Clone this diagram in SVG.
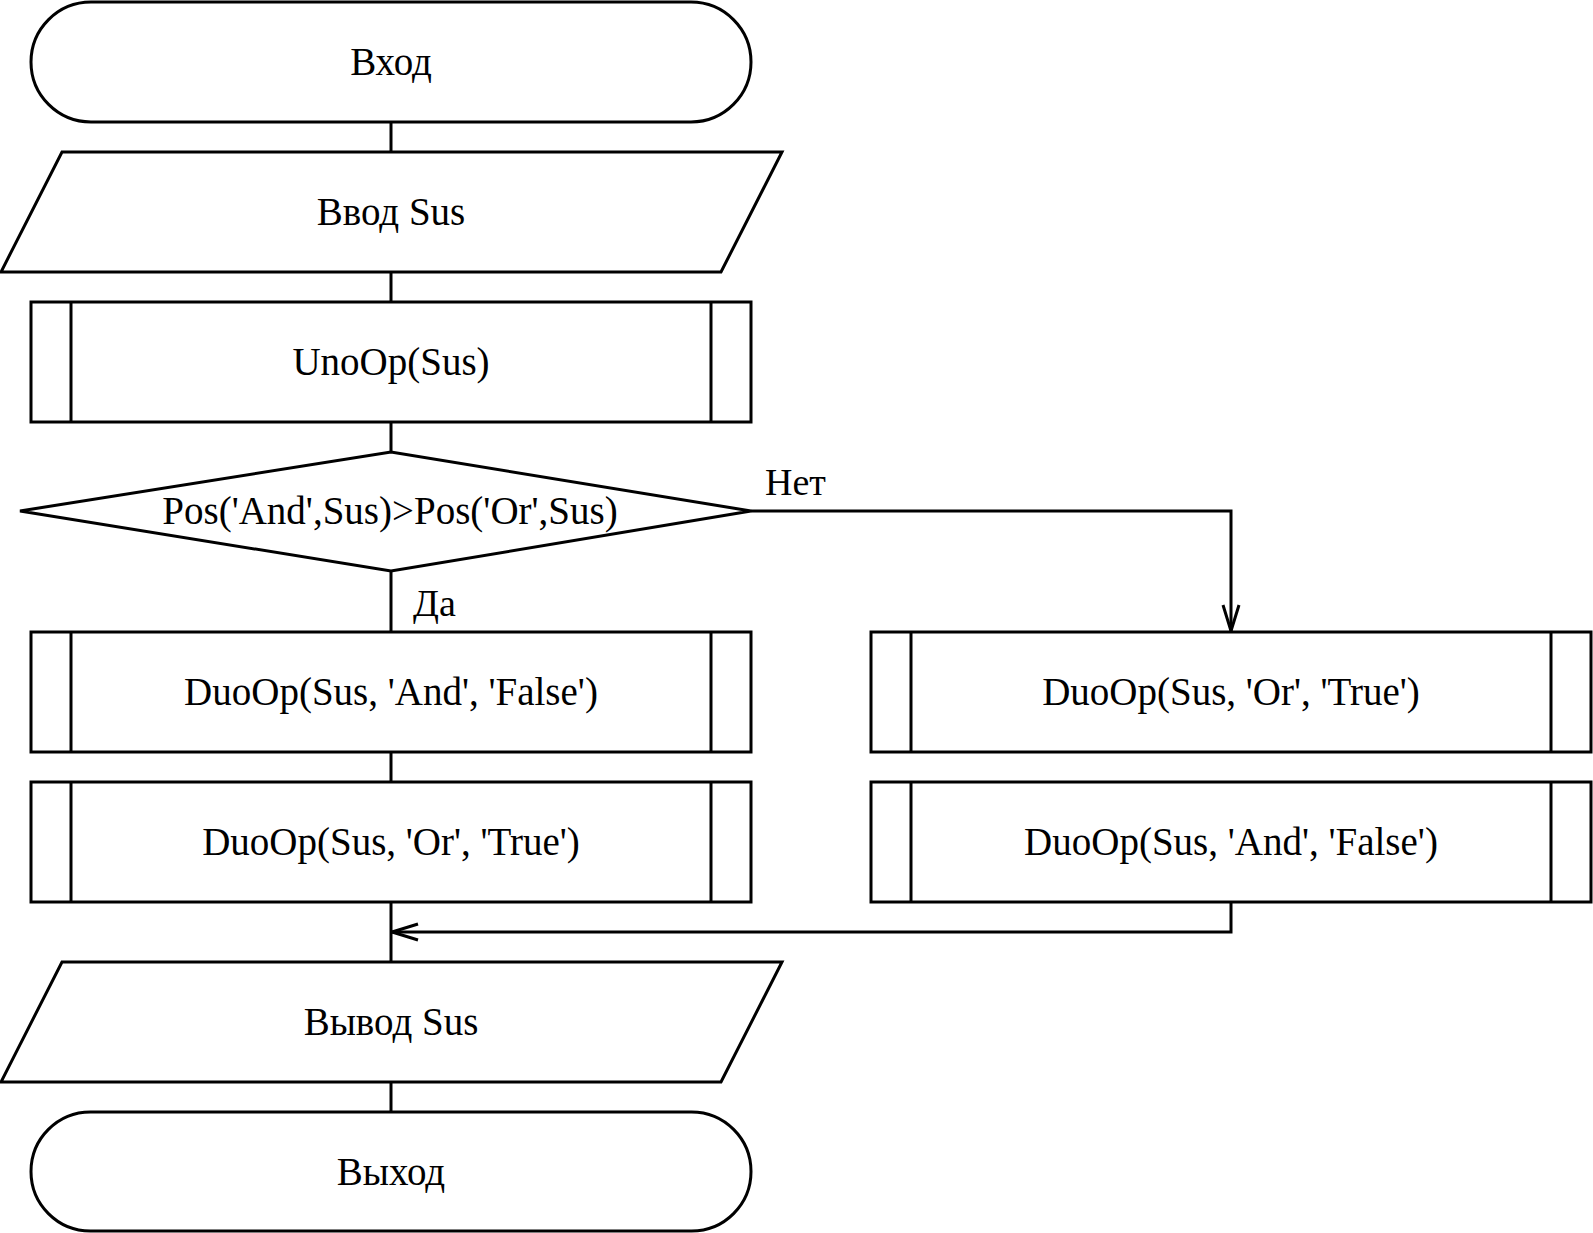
<svg xmlns="http://www.w3.org/2000/svg" width="1593" height="1233" viewBox="0 0 1593 1233">
<defs>
<style>
.s{fill:#fff;stroke:#000;stroke-width:3}
.l{fill:none;stroke:#000;stroke-width:3}
.t{font-family:"Liberation Serif","Times New Roman",serif;font-size:39px;fill:#000;text-anchor:middle}
.lab{font-family:"Liberation Serif","Times New Roman",serif;font-size:38px;fill:#000}
</style>
<marker id="arr" viewBox="0 0 30 20" refX="28" refY="10" markerWidth="30" markerHeight="20" markerUnits="userSpaceOnUse" orient="auto">
<path d="M2,2 L28,10 L2,18" fill="none" stroke="#000" stroke-width="3"/>
</marker>
</defs>
<rect width="1593" height="1233" fill="#fff"/>
<g id="connectors">
<line class="l" x1="391" y1="122" x2="391" y2="152"/>
<line class="l" x1="391" y1="272" x2="391" y2="302"/>
<line class="l" x1="391" y1="422" x2="391" y2="452"/>
<line class="l" x1="391" y1="571" x2="391" y2="632"/>
<line class="l" x1="391" y1="752" x2="391" y2="782"/>
<line class="l" x1="391" y1="902" x2="391" y2="962"/>
<line class="l" x1="391" y1="1082" x2="391" y2="1112"/>
<polyline class="l" points="751,511 1231,511 1231,631" marker-end="url(#arr)"/>
<polyline class="l" points="1231,902 1231,932 392,932" marker-end="url(#arr)"/>
<text class="lab" x="765" y="495">Нет</text>
<text class="lab" x="413" y="616">Да</text>
</g>
<g id="start">
<rect class="s" x="31" y="2" width="720" height="120" rx="60" ry="60"/>
<text class="t" x="391" y="75">Вход</text>
</g>
<g id="input">
<polygon class="s" points="62,152 782,152 721,272 1,272"/>
<text class="t" x="391" y="225">Ввод Sus</text>
</g>
<g id="unoop">
<rect class="s" x="31" y="302" width="720" height="120"/>
<line class="l" x1="71" y1="302" x2="71" y2="422"/>
<line class="l" x1="711" y1="302" x2="711" y2="422"/>
<text class="t" x="391" y="375">UnoOp(Sus)</text>
</g>
<g id="decision">
<polygon class="s" points="20,511 391,452 751,511 391,571"/>
<text class="t" x="390" y="524">Pos('And',Sus)&gt;Pos('Or',Sus)</text>
</g>
<g id="left1">
<rect class="s" x="31" y="632" width="720" height="120"/>
<line class="l" x1="71" y1="632" x2="71" y2="752"/>
<line class="l" x1="711" y1="632" x2="711" y2="752"/>
<text class="t" x="391" y="705">DuoOp(Sus, 'And', 'False')</text>
</g>
<g id="left2">
<rect class="s" x="31" y="782" width="720" height="120"/>
<line class="l" x1="71" y1="782" x2="71" y2="902"/>
<line class="l" x1="711" y1="782" x2="711" y2="902"/>
<text class="t" x="391" y="855">DuoOp(Sus, 'Or', 'True')</text>
</g>
<g id="right1">
<rect class="s" x="871" y="632" width="720" height="120"/>
<line class="l" x1="911" y1="632" x2="911" y2="752"/>
<line class="l" x1="1551" y1="632" x2="1551" y2="752"/>
<text class="t" x="1231" y="705">DuoOp(Sus, 'Or', 'True')</text>
</g>
<g id="right2">
<rect class="s" x="871" y="782" width="720" height="120"/>
<line class="l" x1="911" y1="782" x2="911" y2="902"/>
<line class="l" x1="1551" y1="782" x2="1551" y2="902"/>
<text class="t" x="1231" y="855">DuoOp(Sus, 'And', 'False')</text>
</g>
<g id="output">
<polygon class="s" points="62,962 782,962 721,1082 1,1082"/>
<text class="t" x="391" y="1035">Вывод Sus</text>
</g>
<g id="end">
<rect class="s" x="31" y="1112" width="720" height="119" rx="59.5" ry="59.5"/>
<text class="t" x="391" y="1185">Выход</text>
</g>
</svg>
